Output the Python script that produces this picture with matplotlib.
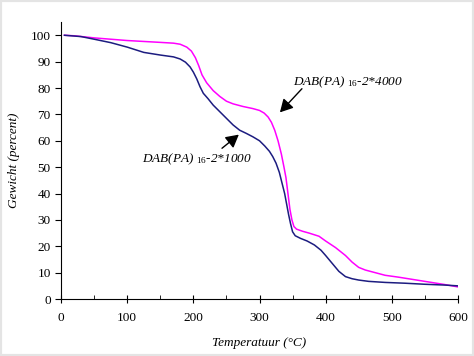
import matplotlib.pyplot as plt
from matplotlib.patches import Rectangle

plt.rcParams['font.family'] = 'Liberation Serif'
plt.rcParams['mathtext.fontset'] = 'custom'
plt.rcParams['mathtext.it'] = 'Liberation Serif:italic'
plt.rcParams['mathtext.rm'] = 'Liberation Serif'

# DAB(PA)16-2*4000 (magenta)
temp_4000 = [5, 20, 50, 100, 150, 170, 180, 190, 197, 203, 208, 213, 220, 230, 240, 250,
             260, 275, 290, 300, 307, 313, 318, 323, 328, 333, 337, 340, 343, 346, 349,
             352, 356, 365, 375, 390, 400, 415, 430, 440, 450, 460, 475, 490, 510, 530,
             560, 580, 600]
mass_4000 = [100, 99.8, 99, 98, 97.3, 97, 96.6, 95.5, 94, 91.5, 88.5, 85, 82, 79, 76.8, 75,
             74, 73, 72.2, 71.5, 70.5, 69, 67, 64, 60, 55, 50, 46, 40, 34, 30,
             27.5, 26.5, 25.7, 25, 23.8, 22, 19.5, 16.5, 14, 12, 11, 10, 9, 8.3, 7.5,
             6.3, 5.5, 4.6]

# DAB(PA)16-2*1000 (navy)
temp_1000 = [5, 30, 50, 75, 100, 125, 150, 170, 180, 188, 195, 200, 205, 210, 215, 222,
             230, 240, 250, 260, 270, 280, 290, 300, 308, 315, 320, 325, 330, 335, 338,
             341, 344, 347, 350, 354, 362, 372, 383, 393, 400, 410, 420, 430, 440, 450,
             465, 490, 520, 550, 580, 600]
mass_1000 = [100, 99.5, 98.5, 97.2, 95.5, 93.5, 92.5, 91.8, 91, 89.8, 88, 86, 83.5, 80.5, 78, 76,
             73.5, 71, 68.5, 66, 64, 62.8, 61.5, 60, 58, 56, 54, 51.5, 48, 43, 40,
             36, 32, 28.5, 25.5, 24, 23, 22, 20.5, 18.5, 16.5, 13.5, 10.5, 8.5, 7.7, 7.2,
             6.7, 6.3, 6, 5.6, 5.3, 5]

fig = plt.figure(figsize=(4.74, 3.56), dpi=100)
ax = fig.add_axes([0.129, 0.16, 0.837, 0.778])

ax.plot(temp_4000, mass_4000, color='#ff00ff', lw=1.1)
ax.plot(temp_1000, mass_1000, color='#1c1c80', lw=1.1)

ax.set_xlim(0, 600)
ax.set_ylim(0, 105)
ax.set_xticks(range(0, 601, 100))
ax.set_xticks(range(50, 600, 100), minor=True)
ax.set_yticks(range(0, 101, 10))
ax.spines['top'].set_visible(False)
ax.spines['right'].set_visible(False)
ax.tick_params(axis='x', which='major', direction='inout', length=6, labelsize=9.5, pad=6)
ax.tick_params(axis='x', which='minor', direction='in', length=3)
ax.tick_params(axis='y', direction='out', length=4, labelsize=9.5)

ax.set_xlabel('Temperatuur (°C)', style='italic', fontsize=9.5, labelpad=10)
ax.set_ylabel('Gewicht (percent)', style='italic', fontsize=9.5, labelpad=8)

arrow = dict(arrowstyle='-|>,head_length=0.55,head_width=0.3', color='black', lw=1,
             mutation_scale=14)
ax.annotate('', xy=(328, 70), xytext=(367, 80.5), arrowprops=arrow)
ax.text(350, 82, r'DAB(PA) $_{\mathit{16}}$-2*4000', style='italic', fontsize=9.5,
        va='center', ha='left')
ax.annotate('', xy=(272, 63), xytext=(240, 56.5), arrowprops=arrow)
ax.text(122, 53, r'DAB(PA) $_{\mathit{16}}$-2*1000', style='italic', fontsize=9.5,
        va='center', ha='left')

fig.patches.append(Rectangle((0, 0), 1, 1, transform=fig.transFigure, fill=False,
                             edgecolor='#e4e4e4', lw=3))

fig.savefig('out.png', dpi=100)
